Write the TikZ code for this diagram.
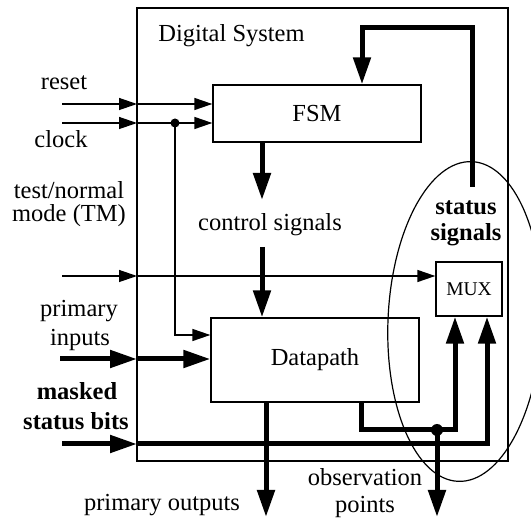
\documentclass[tikz,border=0pt]{standalone}
\usepackage{fontspec}
\setmainfont{Liberation Serif}
\usetikzlibrary{arrows.meta}
\begin{document}
\begin{tikzpicture}[x=1pt,y=-1pt,
  thinline/.style={line width=1.3pt},
  thinarrow/.style={line width=1.3pt,-{Triangle[length=18pt,width=12pt]}},
  thickarrow/.style={line width=5pt,-{Triangle[length=27pt,width=17pt]}},
  lbl/.style={anchor=base,inner sep=0pt,font=\fontsize{24.5}{28}\selectfont},
  blbl/.style={anchor=base,inner sep=0pt,font=\fontsize{24.5}{28}\selectfont\bfseries},
  blockbox/.style={draw,line width=1.3pt,inner sep=0pt,font=\fontsize{24.5}{28}\selectfont},
  dotmark/.style={fill=black}
]
\fill[white] (0,0) rectangle (531,521);
\useasboundingbox (0,0) rectangle (531,521);

% outer system box
\node[draw,line width=1.3pt,minimum width=371pt,minimum height=453pt,inner sep=0pt] (sys) at (322.5,234.5) {};
\node[lbl] (systext) at (231.5,42) {Digital System};

% blocks
\node[blockbox,minimum width=208pt,minimum height=57pt] (fsm) at (317,113.5) {FSM};
\node[blockbox,minimum width=208pt,minimum height=84pt] (dp) at (315,360) {Datapath};
\node[blockbox,minimum width=66pt,minimum height=54pt,font=\fontsize{19.5}{22}\selectfont] (mux) at (469,289) {MUX};

% ellipse of status signals
\draw[line width=1.2pt,rotate around={-2.5:(465,321.5)}] (465,321.5) ellipse [x radius=77, y radius=160];

% coordinates
\coordinate (resetin) at (62,104);
\coordinate (resetb) at (137,104);
\coordinate (clkin) at (62,123);
\coordinate (clkb) at (137,123);
\coordinate (clkdot) at (175,123);
\coordinate (clkdp) at (175,335);
\coordinate (tmin) at (62,276);
\coordinate (tmb) at (137,276);
\coordinate (piin) at (60,359);
\coordinate (pib) at (137,359);
\coordinate (mskin) at (62,444);
\coordinate (mskb) at (137,444);
\coordinate (mskc) at (487,444);
\coordinate (dpo1) at (361,430);
\coordinate (dpo2) at (455,430);
\coordinate (obsdot) at (437,430);
\coordinate (obsend) at (437,517);
\coordinate (poend) at (266,517);
\coordinate (ctrl1) at (262,200);
\coordinate (ctrl2) at (262,247);
\coordinate (fb1) at (472,187);
\coordinate (fb2) at (472,28);
\coordinate (fb3) at (362,28);

% thin inputs
\draw[thinarrow] (resetin) -- (resetb);
\draw[thinarrow] (resetb) -- (fsm.west |- resetb);
\draw[thinarrow] (clkin) -- (clkb);
\draw[thinarrow] (clkb) -- (fsm.west |- clkb);
\draw[thinarrow] (clkdot) -- (clkdp) -- (dp.west |- clkdp);
\fill[dotmark] (clkdot) circle [radius=4.5];
\draw[thinarrow] (tmin) -- (tmb);
\draw[thinarrow] (tmb) -- (mux.west |- tmb);

% thick connections
\draw[thickarrow] (fsm.south -| ctrl1) -- (ctrl1);
\draw[thickarrow] (ctrl2) -- (ctrl2 |- dp.north);
\draw[thickarrow] (piin) -- (pib);
\draw[thickarrow] (pib) -- (dp.west |- pib);
\draw[thickarrow] (mskin) -- (mskb);
\draw[thickarrow] (mskb) -- (mskc) -- (mskc |- mux.south);
\draw[thickarrow] (dpo1 |- dp.south) -- (dpo1) -- (dpo2) -- (dpo2 |- mux.south);
\draw[thickarrow] (dp.south -| poend) -- (poend);
\draw[thickarrow] (obsdot) -- (obsend);
\fill[dotmark] (obsdot) circle [radius=6];
\draw[thickarrow] (fb1) -- (fb2) -- (fb3) -- (fb3 |- fsm.north);

% labels
\node[lbl] (lreset) at (64,90) {reset};
\node[lbl] (lclock) at (61,148) {clock};
\node[lbl] (ltm1) at (69,199) {test/normal};
\node[lbl] (ltm2) at (69,222) {mode (TM)};
\node[lbl] (lpi1) at (79,317) {primary};
\node[lbl] (lpi2) at (80,346) {inputs};
\node[blbl] (lmsk1) at (77,400) {masked};
\node[blbl] (lmsk2) at (76,430) {status bits};
\node[lbl] (lctrl) at (270,231) {control signals};
\node[blbl] (lst1) at (466,215) {status};
\node[blbl] (lst2) at (466,241) {signals};
\node[lbl] (lobs1) at (365,486) {observation};
\node[lbl] (lobs2) at (365,513) {points};
\node[lbl] (lpo) at (162,511) {primary outputs};
\end{tikzpicture}
\end{document}
